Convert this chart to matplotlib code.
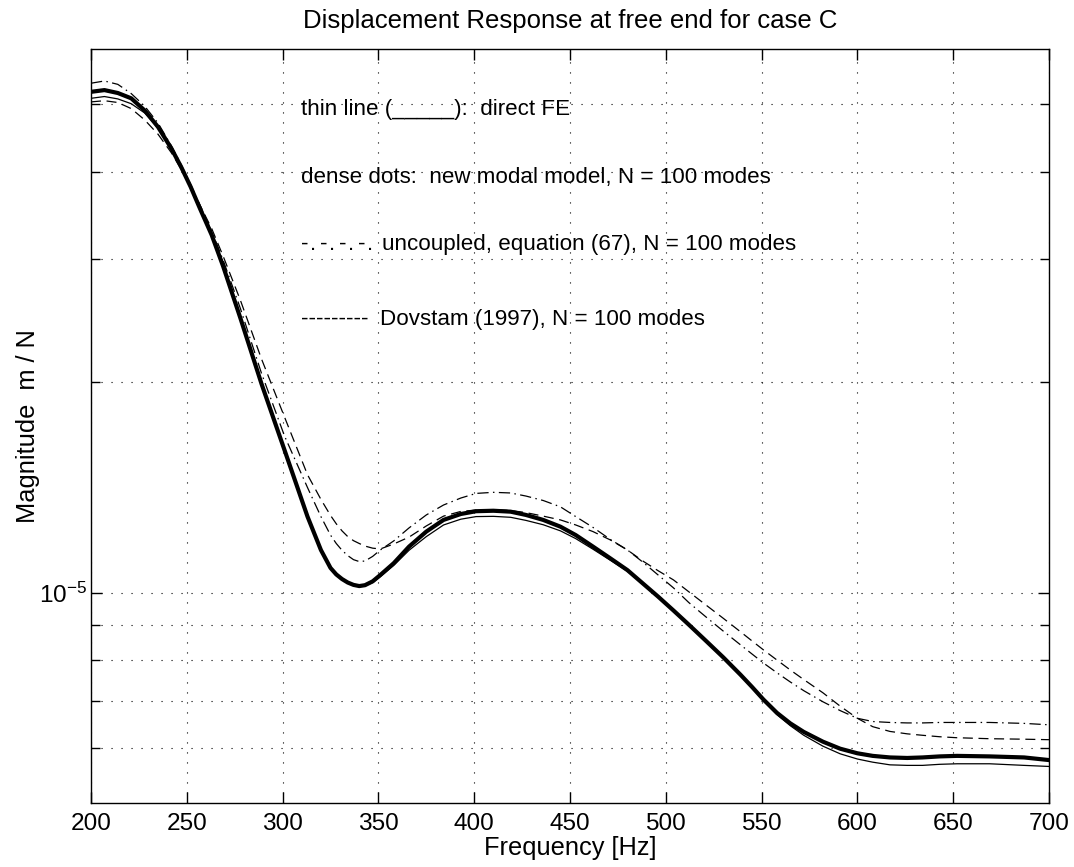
import matplotlib
matplotlib.use("Agg")
import matplotlib.pyplot as plt
from matplotlib.ticker import FixedLocator, FixedFormatter, NullFormatter

plt.rcParams['font.family'] = ['Liberation Sans', 'DejaVu Sans']
plt.rcParams['mathtext.fontset'] = 'custom'
plt.rcParams['mathtext.rm'] = 'Liberation Sans'
plt.rcParams['mathtext.it'] = 'Liberation Sans'

# ---- data (values in units of 1e-5 m/N) ----
freq = [200, 207, 214, 221, 228, 235, 242, 247, 252, 257,
        263, 269, 278, 289, 301, 313, 320, 325,
        328, 331, 334, 337, 340, 343, 347, 351,
        358, 366, 375, 384, 393, 401, 410, 419, 427, 436,
        445, 453, 462, 471, 480, 488, 496, 504, 512, 521,
        530, 539, 545, 551, 558, 565, 572, 582, 591, 600,
        608, 617, 626, 634, 643, 652, 669, 687, 700]

direct_fe = [5.10, 5.13, 5.09, 5.01, 4.86, 4.63, 4.32, 4.07, 3.81, 3.54,
             3.25, 2.93, 2.47, 1.99, 1.60, 1.285, 1.151, 1.085,
             1.062, 1.046, 1.034, 1.026, 1.021, 1.023, 1.034, 1.054,
             1.094, 1.150, 1.203, 1.250, 1.274, 1.285, 1.286, 1.282, 1.269, 1.251,
             1.226, 1.195, 1.154, 1.113, 1.073, 1.029, 0.986, 0.942, 0.899, 0.852,
             0.807, 0.762, 0.731, 0.700, 0.669, 0.645, 0.625, 0.603, 0.588, 0.578,
             0.572, 0.567, 0.566, 0.566, 0.568, 0.569, 0.569, 0.566, 0.564]

new_modal = [5.21, 5.24, 5.19, 5.10, 4.90, 4.64, 4.32, 4.07, 3.81, 3.54,
             3.25, 2.93, 2.47, 1.99, 1.60, 1.285, 1.151, 1.085,
             1.062, 1.046, 1.034, 1.026, 1.022, 1.025, 1.038, 1.060,
             1.102, 1.164, 1.223, 1.271, 1.296, 1.308, 1.310, 1.306, 1.292, 1.271,
             1.243, 1.209, 1.164, 1.120, 1.077, 1.031, 0.987, 0.943, 0.900, 0.853,
             0.808, 0.763, 0.733, 0.703, 0.673, 0.650, 0.632, 0.612, 0.598, 0.589,
             0.584, 0.581, 0.580, 0.581, 0.583, 0.584, 0.583, 0.581, 0.576]

uncoupled = [5.36, 5.40, 5.34, 5.18, 4.97, 4.70, 4.36, 4.10, 3.84, 3.58,
             3.29, 2.99, 2.55, 2.06, 1.676, 1.414, 1.285, 1.209,
             1.176, 1.150, 1.130, 1.115, 1.108, 1.110, 1.127, 1.151,
             1.186, 1.238, 1.292, 1.335, 1.366, 1.387, 1.392, 1.389, 1.375, 1.355,
             1.327, 1.285, 1.240, 1.192, 1.151, 1.106, 1.060, 1.016, 0.968, 0.923,
             0.881, 0.842, 0.817, 0.793, 0.768, 0.745, 0.724, 0.698, 0.678, 0.661,
             0.654, 0.652, 0.651, 0.651, 0.652, 0.652, 0.652, 0.650, 0.647]

dovstam = [5.04, 5.06, 5.03, 4.93, 4.75, 4.53, 4.26, 4.04, 3.81, 3.58,
           3.32, 3.03, 2.62, 2.16, 1.784, 1.475, 1.360, 1.290,
           1.255, 1.226, 1.203, 1.187, 1.176, 1.166, 1.158, 1.155,
           1.174, 1.201, 1.246, 1.287, 1.307, 1.313, 1.315, 1.311, 1.302, 1.287,
           1.271, 1.250, 1.223, 1.190, 1.151, 1.110, 1.075, 1.043, 1.003, 0.960,
           0.919, 0.879, 0.853, 0.828, 0.801, 0.775, 0.751, 0.719, 0.688, 0.661,
           0.643, 0.633, 0.628, 0.625, 0.622, 0.620, 0.618, 0.617, 0.616]

scale = 1e-5
xticks = [200, 250, 300, 350, 400, 450, 500, 550, 600, 650, 700]
ymajor = [1e-5]
ymajor_labels = [r'$10^{-5}$']
yminor = [6e-6, 7e-6, 8e-6, 9e-6, 2e-5, 3e-5, 4e-5, 5e-5]

W, H = 1074, 867
L, R, T, B = 91, 1049, 49, 803
fig = plt.figure(figsize=(W/100, H/100), dpi=100)
ax = fig.add_axes([L/W, 1 - B/H, (R-L)/W, (B-T)/H])

ax.plot(freq, [v*scale for v in new_modal], color='black', lw=3.0, solid_joinstyle='round')
ax.plot(freq, [v*scale for v in direct_fe], color='black', lw=0.9)
ax.plot(freq, [v*scale for v in uncoupled], color='black', lw=0.9, dashes=(9, 3.5, 1.2, 3.5))
ax.plot(freq, [v*scale for v in dovstam], color='black', lw=0.9, dashes=(8, 4.5))

ax.set_yscale('log')
ax.set_xlim(200, 700)
ax.set_ylim(5e-6, 6e-5)

ax.xaxis.set_major_locator(FixedLocator(xticks))
ax.set_xticklabels([str(t) for t in xticks])
ax.yaxis.set_major_locator(FixedLocator(ymajor))
ax.yaxis.set_major_formatter(FixedFormatter(ymajor_labels))
ax.yaxis.set_minor_locator(FixedLocator(yminor))
ax.yaxis.set_minor_formatter(NullFormatter())
ax.xaxis.set_minor_locator(FixedLocator([]))

ax.tick_params(axis='both', which='major', direction='in', length=8, width=1,
               top=True, right=True)
ax.tick_params(axis='x', which='major', labelsize=17.6, pad=7)
ax.tick_params(axis='y', which='major', labelsize=17.6, pad=3)
ax.tick_params(axis='y', which='minor', direction='in', length=6.5, width=1,
               left=True, right=True)

grid_kw = dict(color='black', linestyle=(0, (1, 8)), linewidth=0.8)
ax.grid(True, which='major', axis='x', **grid_kw)
ax.grid(True, which='both', axis='y', **grid_kw)

for s in ax.spines.values():
    s.set_linewidth(1.0)

ax.set_title('Displacement Response at free end for case C', fontsize=18.5, pad=15)
ax.set_xlabel('Frequency [Hz]', fontsize=18.3, labelpad=1)
ax.set_ylabel('Magnitude  m / N', fontsize=18.3, labelpad=-0.7)

def fx(px):
    return (px - L) / (R - L)

tk = dict(transform=ax.transAxes, fontsize=16.1, va='baseline', ha='left')
ax.text(fx(301), 0.9125, 'thin line (_____):  direct FE', **tk)
ax.text(fx(301), 0.8227, 'dense dots:  new modal model, N = 100 modes', **tk)
prefix = '-.-.-.-.'
for i, ch in enumerate(prefix):
    k = i // 2
    px = 301 + 18.9 * k + (0 if ch == '-' else 9.2)
    ax.text(fx(px), 0.7334, ch, **tk)
ax.text(fx(381.7), 0.7334, 'uncoupled, equation (67), N = 100 modes', **tk)
ax.text(fx(301), 0.634, '---------', **tk)
ax.text(fx(380), 0.634, 'Dovstam (1997), N = 100 modes', **tk)

fig.savefig('out.png', dpi=100)
